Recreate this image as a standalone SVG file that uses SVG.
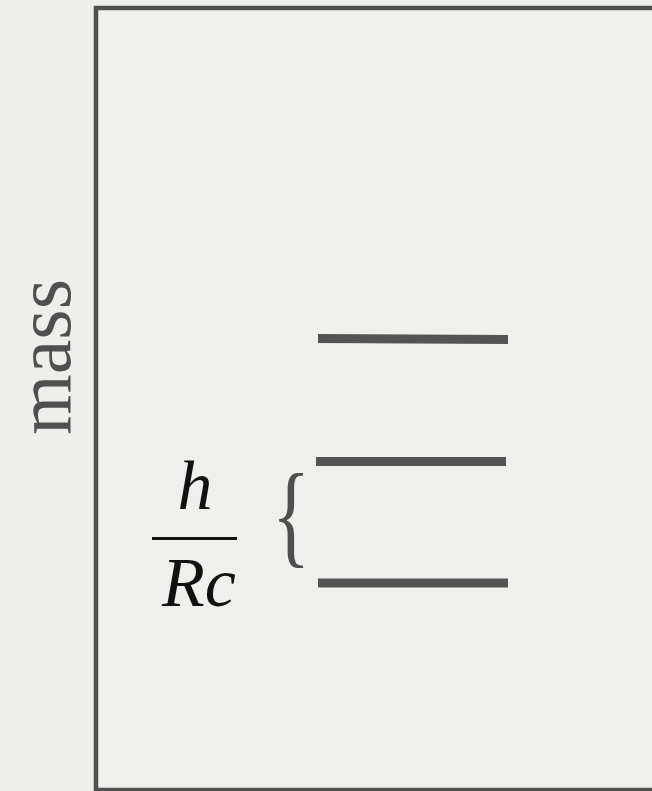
<svg xmlns="http://www.w3.org/2000/svg" width="652" height="791" viewBox="0 0 652 791">
  <style>
    .ink { fill: #4f4f4f; font-family: "Liberation Serif", "Times New Roman", serif; }
    .lvl { stroke: #545454; stroke-width: 9; fill: none; }
    .math { font-family: "Liberation Serif", "Times New Roman", serif; font-style: italic; fill: #111; }
  </style>
  <rect x="0" y="0" width="652" height="791" fill="#eeeeea"/>
  <g id="frame">
    <rect x="96" y="8" width="620" height="782" fill="#efefeb" stroke="#505050" stroke-width="4.5"/>
  </g>
  <g id="axis-label">
    <text class="ink" transform="translate(70,357) rotate(-90)" text-anchor="middle" font-size="78">mass</text>
  </g>
  <g id="levels">
    <line id="level-top" class="lvl" x1="318" y1="338.5" x2="508" y2="339.5"/>
    <line id="level-mid" class="lvl" x1="316" y1="461.5" x2="506" y2="461.5"/>
    <line id="level-bot" class="lvl" x1="318" y1="583" x2="508" y2="583"/>
  </g>
  <g id="spacing-label">
    <text class="math" x="195" y="509" text-anchor="middle" font-size="70">h</text>
    <line x1="152" y1="538.5" x2="237" y2="538.5" stroke="#111" stroke-width="3"/>
    <text class="math" x="199" y="606" text-anchor="middle" font-size="70">Rc</text>
    <text class="ink" transform="translate(272,553) scale(0.7,1)" x="0" y="0" font-size="114">{</text>
  </g>
</svg>
